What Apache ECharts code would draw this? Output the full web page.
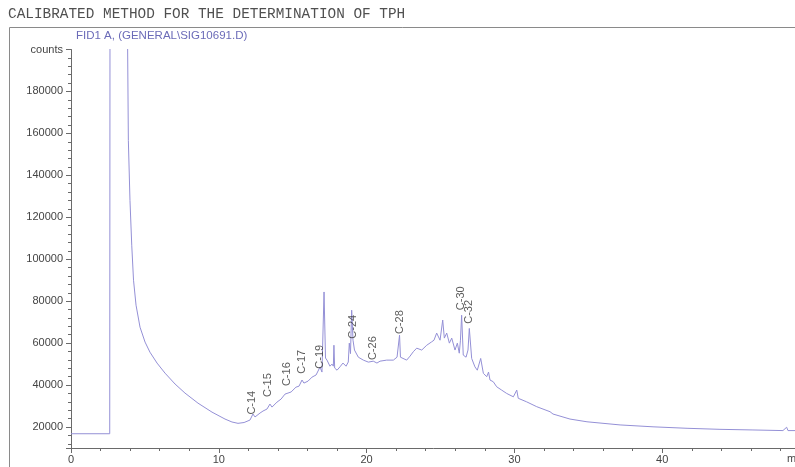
<!DOCTYPE html>
<html>
<head>
<meta charset="utf-8">
<script src="https://cdn.jsdelivr.net/npm/echarts@6/dist/echarts.min.js"></script>
<style>
  html, body { margin: 0; padding: 0; background: #ffffff; }
  #chart { width: 795px; height: 467px; }
</style>
</head>
<body>
<div id="chart"></div>
<script>
// FID1 A signal: retention time (min) and detector response (counts)
const retentionMin = [
  0, 2.62, 2.64, 3.80, 3.88, 3.99, 4.11, 4.23, 4.40, 4.67, 5.01, 5.34, 5.82, 6.36, 7.04, 7.71,
  8.59, 9.54, 10.42, 10.89, 11.30, 11.71, 12.11, 12.31, 12.45, 12.79, 12.99, 13.26, 13.46, 13.60,
  13.94, 14.21, 14.48, 14.61, 14.89, 15.22, 15.43, 15.63, 15.76, 16.04, 16.31, 16.58, 16.85, 16.98,
  17.06, 17.12, 17.22, 17.32, 17.52, 17.66, 17.75, 17.79, 17.84, 18.00, 18.20, 18.40, 18.61, 18.76,
  18.83, 18.91, 18.99, 19.08, 19.18, 19.44, 19.78, 20.12, 20.45, 20.70, 20.91, 21.36, 21.81, 22.06,
  22.19, 22.23, 22.29, 22.71, 22.94, 23.16, 23.39, 23.73, 24.07, 24.40, 24.56, 24.74, 24.97, 25.15,
  25.26, 25.42, 25.60, 25.76, 25.98, 26.14, 26.27, 26.35, 26.43, 26.54, 26.73, 26.86, 26.95, 27.11,
  27.33, 27.49, 27.72, 27.90, 28.13, 28.25, 28.35, 28.57, 28.80, 29.14, 29.48, 29.93, 30.16, 30.26,
  30.83, 31.51, 32.41, 32.61, 33.76, 34.91, 37.15, 39.38, 41.68, 43.91, 46.14, 48.17, 48.42, 48.51,
  49.20
];
const signalCounts = [
  16800, 16800, 230000, 230000, 156700, 128100, 106700, 90000, 78100, 67600, 60500, 55700, 50500, 45700, 40500, 36200,
  31400, 27100, 23800, 22400, 21760, 22150, 23330, 26200, 24800, 26670, 27620, 28570, 30950, 29500,
  31900, 33300, 35700, 34800, 36700, 39000, 39500, 42400, 40950, 41900, 43800, 44800, 48600, 46200,
  46700, 84400, 52900, 51900, 49000, 50000, 49000, 59000, 48100, 47100, 48700, 50500, 49000, 51000,
  60000, 55000, 75700, 61400, 56700, 53300, 51900, 50950, 51400, 50500, 51400, 51900, 51900, 53300,
  52900, 63800, 53300, 51900, 53800, 55900, 57600, 56700, 59000, 60600, 61400, 64800, 61400, 71000,
  62400, 64800, 60000, 62400, 56700, 60000, 55200, 61400, 73300, 54300, 53300, 56700, 67000, 52700,
  48700, 47100, 52700, 45600, 44000, 46200, 42400, 41600, 39200, 37600, 36000, 34400, 37600, 33700,
  32000, 29700, 27300, 26200, 23800, 22500, 21000, 20100, 19400, 18900, 18600, 18300, 19900, 18300,
  18300
];

// Hydrocarbon markers: name, retention time and the height where each tag sits
const peakNames = ['C-14', 'C-15', 'C-16', 'C-17', 'C-19', 'C-24', 'C-26', 'C-28', 'C-30', 'C-32'];
const peakTimes = [12.23, 13.35, 14.59, 15.61, 16.85, 19.10, 20.45, 22.26, 26.39, 26.95];
const tagCounts = [31600, 40000, 45200, 51100, 53500, 67800, 57600, 70000, 81400, 74900];

const chartTitle = 'CALIBRATED METHOD FOR THE DETERMINATION OF TPH';
const signalName = 'FID1 A, (GENERAL\\SIG10691.D)';
const yUnit = 'counts';
const xUnit = 'min';

const signal = retentionMin.map((t, i) => [t, signalCounts[i]]);
const tags = peakNames.map((n, i) => ({ name: n, value: [peakTimes[i], tagCounts[i]] }));

const AXIS = '#6a6a6a';
const TEXT = '#444444';
const SANS = '"Liberation Sans", Arial, sans-serif';

const chart = echarts.init(document.getElementById('chart'), null, { renderer: 'canvas' });
chart.setOption({
  animation: false,
  backgroundColor: '#ffffff',
  // the time axis runs on past the right edge of the page, as on the printout
  grid: {
    left: 71, top: 49.5, width: 739, height: 398.5,
    containLabel: false, outerBoundsMode: 'none'
  },
  xAxis: {
    type: 'value',
    min: 0,
    max: 50,
    interval: 10,
    axisLine: { show: true, lineStyle: { color: AXIS, width: 1 } },
    axisTick: { show: true, length: 5, lineStyle: { color: AXIS } },
    minorTick: { show: true, splitNumber: 5, length: 3, lineStyle: { color: AXIS } },
    splitLine: { show: false },
    axisLabel: { color: TEXT, fontSize: 11, fontFamily: SANS, margin: 6, showMaxLabel: false }
  },
  yAxis: {
    type: 'value',
    min: 10000,
    max: 200000,
    splitNumber: 10,
    minInterval: 20000,
    maxInterval: 20000,
    axisLine: { show: true, lineStyle: { color: AXIS, width: 1 } },
    axisTick: { show: true, length: 5, lineStyle: { color: AXIS } },
    minorTick: { show: true, splitNumber: 5, length: 3, lineStyle: { color: AXIS } },
    splitLine: { show: false },
    axisLabel: {
      color: TEXT, fontSize: 11, fontFamily: SANS, margin: 8, showMinLabel: false,
      formatter: v => (v === 200000 ? yUnit : String(v))
    }
  },
  series: [
    {
      type: 'line',
      data: signal,
      showSymbol: false,
      symbol: 'none',
      clip: true,
      lineStyle: { color: '#9490d6', width: 1 },
      silent: true,
      z: 2
    },
    {
      type: 'scatter',
      data: tags,
      symbolSize: 1,
      itemStyle: { color: 'rgba(0,0,0,0)' },
      silent: true,
      z: 3,
      label: {
        show: true,
        position: 'inside',
        rotate: 90,
        formatter: p => p.name,
        color: '#333333',
        fontSize: 11,
        fontFamily: SANS
      }
    }
  ],
  graphic: [
    {
      type: 'text', left: 8, top: 7,
      style: { text: chartTitle, fill: '#505050', font: '14.4px "Liberation Mono", "Courier New", monospace' }
    },
    {
      type: 'line', silent: true,
      shape: { x1: 9.5, y1: 27.5, x2: 795, y2: 27.5 },
      style: { stroke: '#8a8a8a', lineWidth: 1 }
    },
    {
      type: 'line', silent: true,
      shape: { x1: 9.5, y1: 27.5, x2: 9.5, y2: 467 },
      style: { stroke: '#8a8a8a', lineWidth: 1 }
    },
    {
      type: 'text', left: 76, top: 30,
      style: { text: signalName, fill: '#6b6bb8', font: '11.5px "Liberation Sans", Arial, sans-serif' }
    },
    {
      type: 'text', left: 787, top: 453,
      style: { text: xUnit, fill: TEXT, font: '11px "Liberation Sans", Arial, sans-serif' }
    }
  ]
});
</script>
</body>
</html>
